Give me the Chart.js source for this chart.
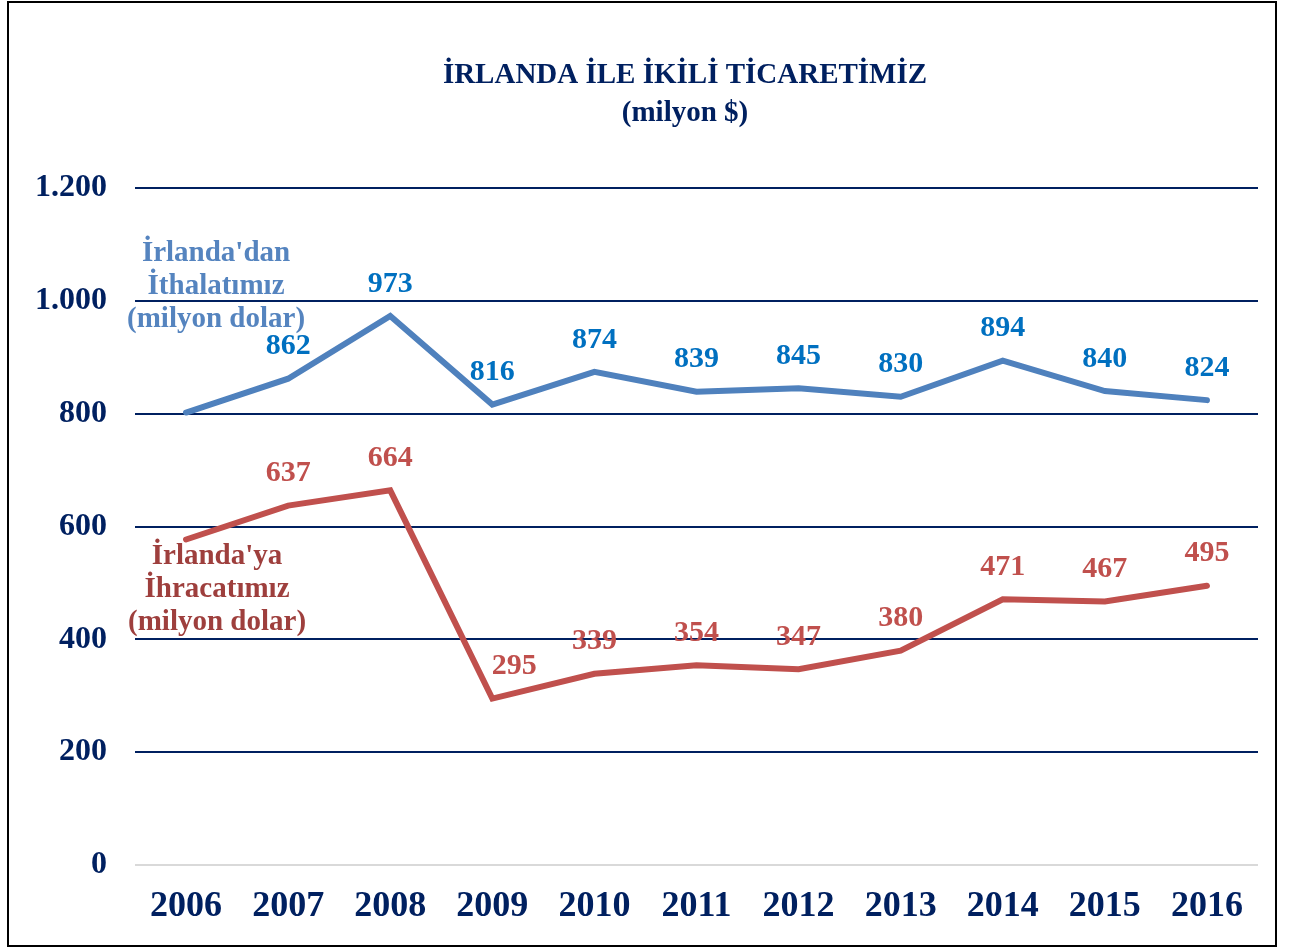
<!DOCTYPE html>
<html><head><meta charset="utf-8">
<script src="https://cdn.jsdelivr.net/npm/chart.js@4.4.1/dist/chart.umd.min.js"></script>
<style>html,body{margin:0;padding:0;background:#fff;} #wrap{position:relative;width:1290px;height:950px;} canvas{display:block;}</style>
</head><body><div id="wrap"><canvas id="c" width="1290" height="950"></canvas></div>
<script>
const years = ["2006","2007","2008","2009","2010","2011","2012","2013","2014","2015","2016"];
const imports = [802, 862, 973, 816, 874, 839, 845, 830, 894, 840, 824];
const exportsTR = [577, 637, 664, 295, 339, 354, 347, 380, 471, 467, 495];
const titleLines = ["İRLANDA İLE İKİLİ TİCARETİMİZ", "(milyon $)"];
const importName = ["İrlanda'dan", "İthalatımız", "(milyon dolar)"];
const exportName = ["İrlanda'ya", "İhracatımız", "(milyon dolar)"];

const FONT = "'Liberation Serif', 'DejaVu Serif', serif";
const NAVY = '#002060';

const overlay = {
  id: 'overlay',
  afterDraw(chart) {
    const ctx = chart.ctx;
    ctx.save();
    // outer border
    ctx.strokeStyle = '#000';
    ctx.lineWidth = 2;
    ctx.strokeRect(8, 2, 1268, 944);
    // title
    ctx.fillStyle = NAVY;
    ctx.textAlign = 'center';
    ctx.textBaseline = 'middle';
    ctx.font = 'bold 29px ' + FONT;
    ctx.fillText(titleLines[0], 685, 76);
    ctx.fillText(titleLines[1], 685, 114);
    // data labels
    const conf = [
      {ds: 0, color: '#0070C0'},
      {ds: 1, color: '#C0504D'}
    ];
    ctx.font = 'bold 30px ' + FONT;
    conf.forEach(c => {
      const meta = chart.getDatasetMeta(c.ds);
      const vals = chart.data.datasets[c.ds].data;
      ctx.fillStyle = c.color;
      meta.data.forEach((pt, i) => {
        if (i === 0) return;
        // the deep trough label sits to the right of its point, as in the source
        const dx = (c.ds === 1 && i === 3) ? 22 : 0;
        ctx.fillText(String(vals[i]), pt.x + dx, pt.y - 32);
      });
    });
    // series name labels near first point
    ctx.font = 'bold 29px ' + FONT;
    const p0 = chart.getDatasetMeta(0).data[0];
    ctx.fillStyle = '#5584BF';
    importName.forEach((t, k) => ctx.fillText(t, p0.x + 30, p0.y - 159 + k * 33));
    const p1 = chart.getDatasetMeta(1).data[0];
    ctx.fillStyle = '#9E3F3D';
    exportName.forEach((t, k) => ctx.fillText(t, p1.x + 31, p1.y + 17 + k * 33));
    ctx.restore();
  }
};

new Chart(document.getElementById('c'), {
  type: 'line',
  data: {
    labels: years,
    datasets: [
      {label: 'İthalat', data: imports, borderColor: '#4F81BD', borderWidth: 6, pointRadius: 0, tension: 0, borderCapStyle: 'round', borderJoinStyle: 'miter', fill: false},
      {label: 'İhracat', data: exportsTR, borderColor: '#C0504D', borderWidth: 6, pointRadius: 0, tension: 0, borderCapStyle: 'round', borderJoinStyle: 'miter', fill: false}
    ]
  },
  options: {
    responsive: false,
    animation: false,
    devicePixelRatio: 1,
    layout: {padding: {top: 188, right: 32, left: 0, bottom: 0}},
    plugins: {legend: {display: false}, tooltip: {enabled: false}, title: {display: false}},
    scales: {
      x: {
        offset: true,
        grid: {display: false, drawTicks: false},
        border: {display: false},
        ticks: {color: NAVY, font: {family: FONT, size: 36, weight: 'bold'}, padding: 20, maxRotation: 0, autoSkip: false},
        afterFit(s) { s.height = 85; }
      },
      y: {
        min: 0, max: 1200,
        grid: {
          drawTicks: false,
          color: ctx => ctx.tick && ctx.tick.value === 0 ? '#D9D9D9' : NAVY,
          lineWidth: 2
        },
        border: {display: false},
        ticks: {
          stepSize: 200, padding: 28, color: NAVY,
          font: {family: FONT, size: 32, weight: 'bold'},
          callback: v => v >= 1000 ? Math.floor(v/1000) + '.' + String(v % 1000).padStart(3, '0') : String(v)
        },
        afterFit(s) { s.width = 135; }
      }
    }
  },
  plugins: [overlay]
});
</script>
</body></html>
